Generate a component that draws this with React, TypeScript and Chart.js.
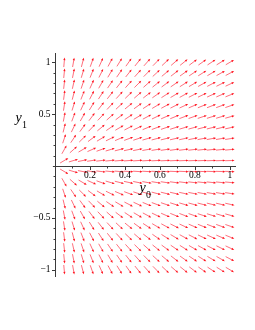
import React, { useEffect, useRef } from 'react';
import { Chart, registerables } from 'chart.js';
Chart.register(...registerables);

// Grid points of the direction field (y0 horizontal, y1 vertical)
const y0Grid = [0.0526, 0.1053, 0.1579, 0.2105, 0.2632, 0.3158, 0.3684, 0.4211, 0.4737, 0.5263, 0.5789, 0.6316, 0.6842, 0.7368, 0.7895, 0.8421, 0.8947, 0.9474, 1.0];
const y1Grid = [-1.0, -0.8947, -0.7895, -0.6842, -0.5789, -0.4737, -0.3684, -0.2632, -0.1579, -0.0526, 0.0526, 0.1579, 0.2632, 0.3684, 0.4737, 0.5789, 0.6842, 0.7895, 0.8947, 1.0];

// Tick marks and labels
const xMajorTicks = [0.2, 0.4, 0.6, 0.8, 1];
const xTickLabels = ['0.2', '0.4', '0.6', '0.8', '1'];
const xMinorTicks = [0.1, 0.3, 0.5, 0.7, 0.9];
const yMajorTicks = [-1, -0.5, 0.5, 1];
const yTickLabels = ['\u22121', '\u22120.5', '0.5', '1'];
const yMinorTicks = [-0.9, -0.8, -0.7, -0.6, -0.4, -0.3, -0.2, -0.1, 0.1, 0.2, 0.3, 0.4, 0.6, 0.7, 0.8, 0.9];

const xTitle = 'y';
const xTitleSub = '0';
const yTitle = 'y';
const yTitleSub = '1';

// field: d(y0)/dt = y0, d(y1)/dt = y1
const points: { x: number; y: number; u: number; v: number }[] = [];
for (const a of y0Grid) {
  for (const b of y1Grid) {
    points.push({ x: a, y: b, u: a, v: b });
  }
}

const ARROW_LINE = 'rgba(255,40,60,0.75)';
const ARROW_HEAD = 'rgb(255,20,30)';
const AXIS = '#3a3a3a';

const fieldPlugin = {
  id: 'fieldPlugin',
  afterDatasetsDraw(chart: any) {
    const ctx = chart.ctx as CanvasRenderingContext2D;
    const xs = chart.scales.x;
    const ys = chart.scales.y;
    const X = (v: number) => xs.getPixelForValue(v);
    const Y = (v: number) => ys.getPixelForValue(v);
    ctx.save();

    // arrows
    const L = 9.5;
    const head = 2.6;
    const hw = 1.1;
    ctx.lineWidth = 0.9;
    const data = chart.data.datasets[0].data as any[];
    for (const p of data) {
      const px = X(p.x);
      const py = Y(p.y);
      const e = 0.01;
      let vx = X(p.x + e * p.u) - px;
      let vy = Y(p.y + e * p.v) - py;
      const n = Math.hypot(vx, vy) || 1;
      vx /= n;
      vy /= n;
      const sx = px - (vx * L) / 2;
      const sy = py - (vy * L) / 2;
      const ex = px + (vx * L) / 2;
      const ey = py + (vy * L) / 2;
      ctx.strokeStyle = ARROW_LINE;
      ctx.beginPath();
      ctx.moveTo(sx, sy);
      ctx.lineTo(ex - vx * head * 0.6, ey - vy * head * 0.6);
      ctx.stroke();
      ctx.fillStyle = ARROW_HEAD;
      ctx.beginPath();
      ctx.moveTo(ex, ey);
      ctx.lineTo(ex - vx * head - vy * hw, ey - vy * head + vx * hw);
      ctx.lineTo(ex - vx * head + vy * hw, ey - vy * head - vx * hw);
      ctx.closePath();
      ctx.fill();
    }

    // axes
    ctx.strokeStyle = AXIS;
    ctx.lineWidth = 1;
    const y0p = Math.round(Y(0)) + 0.5;
    const x0p = Math.round(X(0)) + 0.5;
    ctx.beginPath();
    ctx.moveTo(X(-0.012), y0p);
    ctx.lineTo(X(xs.max), y0p);
    ctx.moveTo(x0p, Y(ys.max));
    ctx.lineTo(x0p, Y(ys.min));
    ctx.stroke();

    ctx.beginPath();
    for (const t of xMajorTicks) {
      const px = Math.round(X(t)) + 0.5;
      ctx.moveTo(px, y0p);
      ctx.lineTo(px, y0p + 3.5);
    }
    for (const t of xMinorTicks) {
      const px = Math.round(X(t)) + 0.5;
      ctx.moveTo(px, y0p);
      ctx.lineTo(px, y0p + 2);
    }
    for (const t of yMajorTicks) {
      const py = Math.round(Y(t)) + 0.5;
      ctx.moveTo(x0p, py);
      ctx.lineTo(x0p - 3.5, py);
    }
    for (const t of yMinorTicks) {
      const py = Math.round(Y(t)) + 0.5;
      ctx.moveTo(x0p, py);
      ctx.lineTo(x0p - 2, py);
    }
    ctx.stroke();

    // tick labels
    ctx.fillStyle = '#000';
    ctx.font = '9.5px "Liberation Serif", serif';
    ctx.textAlign = 'center';
    ctx.textBaseline = 'middle';
    xMajorTicks.forEach((t, i) => {
      ctx.fillText(xTickLabels[i], X(t), y0p + 9);
    });
    ctx.textAlign = 'right';
    yMajorTicks.forEach((t, i) => {
      ctx.fillText(yTickLabels[i], x0p - 5, Y(t));
    });

    // axis titles
    ctx.textAlign = 'left';
    ctx.textBaseline = 'alphabetic';
    ctx.font = 'italic 14px "Liberation Serif", serif';
    ctx.fillText(xTitle, 139.5, 192);
    ctx.font = '10px "Liberation Serif", serif';
    ctx.fillText(xTitleSub, 146, 197.5);
    ctx.font = 'italic 14px "Liberation Serif", serif';
    ctx.fillText(yTitle, 15.5, 122);
    ctx.font = '10px "Liberation Serif", serif';
    ctx.fillText(yTitleSub, 22, 127.5);

    ctx.restore();
  },
};

export default function App() {
  const ref = useRef<HTMLCanvasElement | null>(null);
  useEffect(() => {
    if (!ref.current) return;
    const chart = new Chart(ref.current, {
      type: 'scatter',
      data: {
        datasets: [
          {
            data: points as any,
            pointRadius: 0,
            pointHoverRadius: 0,
            showLine: false,
          },
        ],
      },
      options: {
        animation: false,
        responsive: false,
        events: [],
        layout: { padding: { left: 55, right: 19, top: 53, bottom: 53 } },
        scales: {
          x: { type: 'linear', min: 0, max: 1.035, display: false },
          y: { type: 'linear', min: -1.07, max: 1.09, display: false },
        },
        plugins: { legend: { display: false }, tooltip: { enabled: false } },
      },
      plugins: [fieldPlugin],
    });
    return () => chart.destroy();
  }, []);
  return (
    <div style={{ position: 'absolute', left: 0, top: 0, width: 255, height: 330, background: '#fff' }}>
      <canvas ref={ref} width={255} height={330} />
    </div>
  );
}
